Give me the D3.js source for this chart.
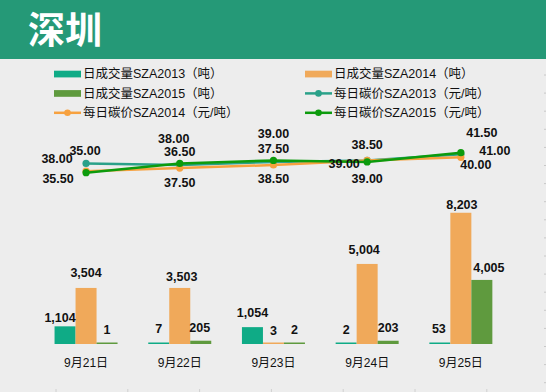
<!DOCTYPE html>
<html><head><meta charset="utf-8">
<script src="https://cdn.jsdelivr.net/npm/d3@7/dist/d3.min.js"></script>
<style>body{margin:0;background:#ededed;overflow:hidden}svg{display:block}</style>
</head><body>
<svg id="chart" width="546" height="392"></svg>
<script>
// ---- data ----
const categories = ["9月21日", "9月22日", "9月23日", "9月24日", "9月25日"];
const volume2013 = [1104, 7, 1054, 2, 53];
const volume2014 = [3504, 3503, 3, 5004, 8203];
const volume2015 = [1, 205, 2, 203, 4005];
const price2013 = [38.00, 37.50, 38.50, 39.00, 41.00];
const price2014 = [35.50, 36.50, 37.50, 39.00, 40.00];
const price2015 = [35.00, 38.00, 39.00, 38.50, 41.50];
const title = "深圳";
const barNames = ["日成交量SZA2013（吨）", "日成交量SZA2014（吨）", "日成交量SZA2015（吨）"];
const lineNames = ["每日碳价SZA2013（元/吨）", "每日碳价SZA2014（元/吨）", "每日碳价SZA2015（元/吨）"];

// ---- styling / layout ----
const barColors = ["#0fab86", "#f0a95a", "#5f9a3e"];
const lineColors = ["#2aa189", "#f7a13f", "#0d9b0d"];
const font = "'Liberation Sans', Arial, 'Noto Sans CJK SC', sans-serif";
// label nudges (dx, dy of baseline) relative to each mark
const barLabelDx = [[-5, 0, 0, 0, -1], [0, 2, 0, -3, 1], [0, -1, 0, 0, 7]];
const barLabelDy = [[-4, -10, -10, -9, -10], [-10.5, -7, -8, -10, -4], [-9, -9, -9, -9, -8]];
const lineLabelDx = [[-29, 0, 0, -23, 34], [-28, 0, 0, 0, 15], [-1, -6, 0, 0, 21]];
const lineLabelDy = [[0, 21.7, 21.4, 8, 0.8], [12, -12.5, -12.2, 22.3, 11.7], [-17.7, -20.5, -22.6, -12.6, -15.4]];

const svg = d3.select("#chart");
svg.append("rect").attr("width", 546).attr("height", 392).attr("fill", "#ededed");

// header
svg.append("rect").attr("x", 0).attr("y", 0).attr("width", 546).attr("height", 59).attr("fill", "#259977");
svg.append("text").attr("x", 28).attr("y", 44).text(title)
  .attr("fill", "#fff").attr("font-size", 37).attr("font-weight", "bold")
  .attr("font-family", "'Noto Sans CJK SC', sans-serif");

// faint edge ticks (from cropped grid)
svg.append("g").selectAll("line").data(d3.range(75, 392, 18.1)).join("line")
  .attr("x1", 544).attr("x2", 546).attr("y1", d => d).attr("y2", d => d)
  .attr("stroke", "#c8c8c8").attr("stroke-width", 1);
svg.append("g").selectAll("line").data(d3.range(56, 546, 71.8)).join("line")
  .attr("x1", d => d).attr("x2", d => d).attr("y1", 389).attr("y2", 392)
  .attr("stroke", "#d0d0d0").attr("stroke-width", 1);

// scales
const x = d3.scaleBand().domain(categories).range([39.2, 507.7]).padding(0);
const xc = c => x(c) + x.bandwidth() / 2;
const xInner = d3.scaleBand().domain([0, 1, 2]).range([-31.5, 31.5]).padding(0);
const yBar = d3.scaleLinear().domain([0, 10000]).range([344, 184]);
const yLine = d3.scaleLinear().domain([0, 50]).range([280.4, 126.55]);

const volumes = [volume2013, volume2014, volume2015];
const prices = [price2013, price2014, price2015];

// bars
volumes.forEach((vals, s) => {
  const g = svg.append("g");
  g.selectAll("rect").data(vals).join("rect")
    .attr("x", (d, i) => xc(categories[i]) + xInner(s))
    .attr("width", xInner.bandwidth())
    .attr("y", d => Math.min(yBar(d), yBar(0) - 1.5))
    .attr("height", d => Math.max(yBar(0) - yBar(d), 1.5))
    .attr("fill", barColors[s]);
});
// bar labels
volumes.forEach((vals, s) => {
  svg.append("g").selectAll("text").data(vals).join("text")
    .attr("x", (d, i) => xc(categories[i]) + xInner(s) + xInner.bandwidth() / 2 + barLabelDx[s][i])
    .attr("y", (d, i) => Math.min(yBar(d), yBar(0) - 1.5) + barLabelDy[s][i])
    .attr("text-anchor", "middle").attr("font-family", font).attr("font-size", 12.5)
    .attr("font-weight", "bold").attr("fill", "#111")
    .text(d => d3.format(",")(d));
});

// category labels
svg.append("g").selectAll("text").data(categories).join("text")
  .attr("x", d => xc(d)).attr("y", 367).attr("text-anchor", "middle")
  .attr("font-family", font).attr("font-size", 12).attr("fill", "#111").text(d => d);

// lines
const line = d3.line().x((d, i) => xc(categories[i])).y(d => yLine(d));
prices.forEach((vals, s) => {
  svg.append("path").datum(vals).attr("d", line).attr("fill", "none")
    .attr("stroke", lineColors[s]).attr("stroke-width", 2.5);
  svg.append("g").selectAll("circle").data(vals).join("circle")
    .attr("cx", (d, i) => xc(categories[i])).attr("cy", d => yLine(d)).attr("r", 3.6)
    .attr("fill", lineColors[s]);
});
// line labels
prices.forEach((vals, s) => {
  svg.append("g").selectAll("text").data(vals).join("text")
    .attr("x", (d, i) => xc(categories[i]) + lineLabelDx[s][i])
    .attr("y", (d, i) => yLine(d) + lineLabelDy[s][i])
    .attr("text-anchor", "middle").attr("font-family", font).attr("font-size", 12.5)
    .attr("font-weight", "bold").attr("fill", "#111")
    .text(d => d3.format(".2f")(d));
});

// legend
const legendItems = [
  {name: barNames[0], type: "bar", color: barColors[0]},
  {name: barNames[1], type: "bar", color: barColors[1]},
  {name: barNames[2], type: "bar", color: barColors[2]},
  {name: lineNames[0], type: "line", color: lineColors[0]},
  {name: lineNames[1], type: "line", color: lineColors[1]},
  {name: lineNames[2], type: "line", color: lineColors[2]}
];
const lg = svg.append("g").selectAll("g").data(legendItems).join("g")
  .attr("transform", (d, i) => `translate(${i % 2 === 0 ? 54 : 305},${74 + Math.floor(i / 2) * 19.4})`);
lg.filter(d => d.type === "bar").append("rect")
  .attr("x", 0).attr("y", -3.3).attr("width", 27).attr("height", 6.7).attr("fill", d => d.color);
lg.filter(d => d.type === "line").append("line")
  .attr("x1", 0).attr("x2", 27).attr("y1", 0).attr("y2", 0)
  .attr("stroke", d => d.color).attr("stroke-width", 2.5);
lg.filter(d => d.type === "line").append("circle")
  .attr("cx", 13.5).attr("cy", 0).attr("r", 3.3).attr("fill", d => d.color);
lg.append("text").attr("x", 29).attr("y", 4.4)
  .attr("font-family", font).attr("font-size", 12.5).attr("fill", "#111").text(d => d.name);
</script>
</body></html>
